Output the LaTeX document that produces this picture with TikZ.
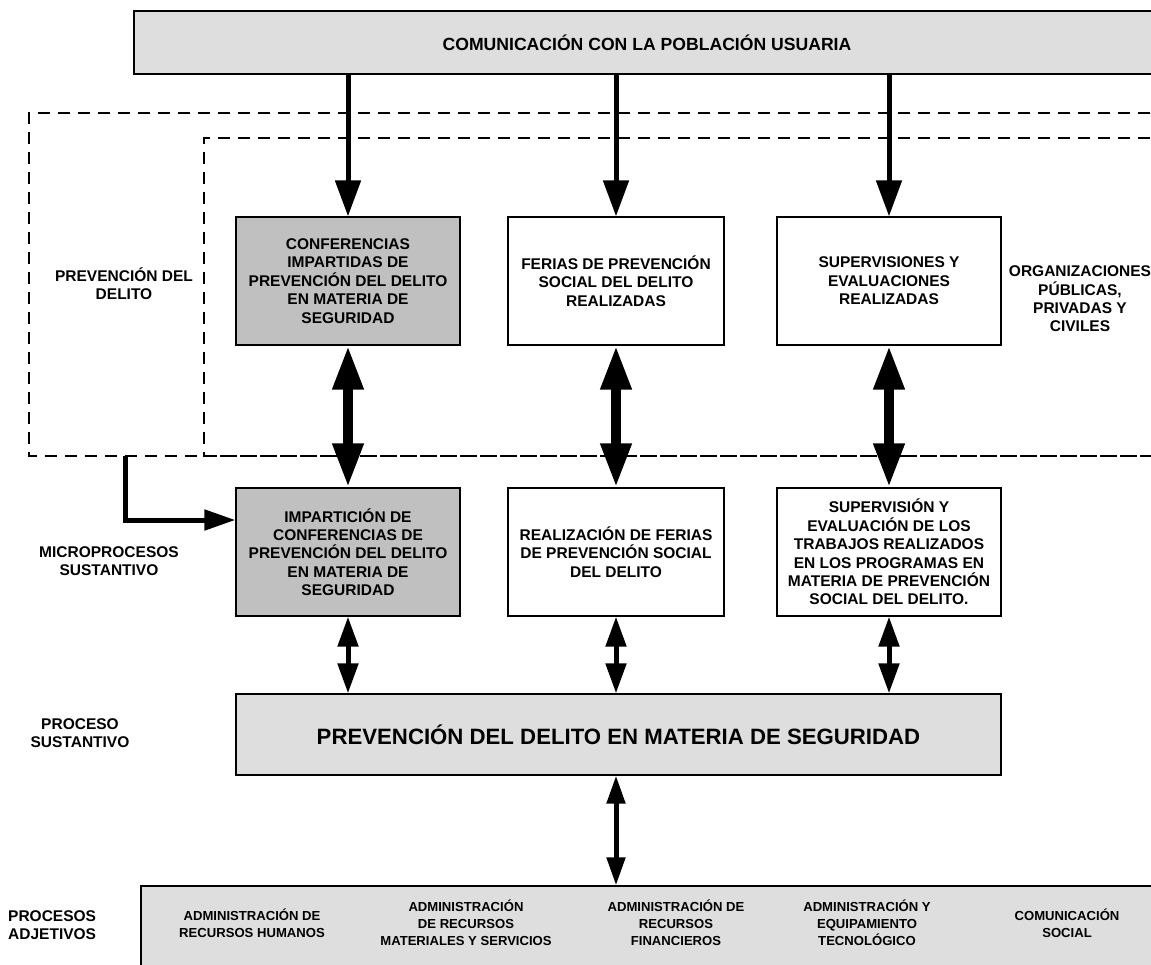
\documentclass[tikz,border=0pt]{standalone}
\usepackage{fontspec}
\setmainfont{Liberation Sans}
\usetikzlibrary{arrows.meta}

\newcommand{\boxfont}{\fontsize{15.5}{18.4}\selectfont\bfseries}
\newcommand{\smallboxfont}{\fontsize{13.1}{17}\selectfont\bfseries}
\newcommand{\titlefont}{\fontsize{17.6}{20}\selectfont\bfseries}

\definecolor{lightfill}{HTML}{DEDEDE}
\definecolor{darkfill}{HTML}{C0C0C0}

\tikzset{
  box/.style={draw=black, line width=1.3pt, align=center, font=\boxfont,
              inner sep=0pt, fill=white},
  graybox/.style={box, fill=darkfill},
  bandbox/.style={box, fill=lightfill},
  label/.style={align=center, font=\boxfont, inner sep=0pt},
  frame/.style={line width=1.2pt, dash pattern=on 12pt off 8pt},
  feed/.style={line width=5pt, -{Triangle[length=36pt,width=25pt]}},
  link/.style={line width=10pt, {Triangle[length=44pt,width=29pt]}-{Triangle[length=44pt,width=29pt]}},
  thinlink/.style={line width=5pt, {Triangle[length=30pt,width=20pt]}-{Triangle[length=30pt,width=20pt]}},
  support/.style={line width=5pt, {Triangle[length=28pt,width=18pt]}-{Triangle[length=28pt,width=18pt]}},
  elbowarrow/.style={line width=5pt, -{Triangle[length=31pt,width=20pt]}},
}

\begin{document}
\begin{tikzpicture}[x=1pt, y=-1pt]
\useasboundingbox (0,0) rectangle (1151,964);
\clip (0,0) rectangle (1151,964);
\fill[white] (0,0) rectangle (1151,964);

% dashed frames (open to the right)
\draw[frame] (1170,113) -- (29,113) -- (29,456) -- (1170,456);
\draw[frame] (1170,138) -- (204,138) -- (204,456) -- (1170,456);

% top band
\node[bandbox, minimum width=1036pt, minimum height=63pt] (top) at (652,42.5) {};
\node[label, font=\titlefont] (toptext) at (647,43)
  {COMUNICACIÓN CON LA POBLACIÓN USUARIA};

% outputs row
\node[graybox, minimum width=224pt, minimum height=128pt] (A) at (348,281)
  {CONFERENCIAS\\IMPARTIDAS DE\\PREVENCIÓN DEL DELITO\\EN MATERIA DE\\SEGURIDAD};
\node[box, minimum width=216pt, minimum height=128pt] (B) at (616,281)
  {FERIAS DE PREVENCIÓN\\SOCIAL DEL DELITO\\REALIZADAS};
\node[box, minimum width=224pt, minimum height=128pt] (C) at (889,281)
  {SUPERVISIONES Y\\EVALUACIONES\\REALIZADAS};

% microprocess row
\node[graybox, minimum width=224pt, minimum height=128pt] (A2) at (348,552)
  {IMPARTICIÓN DE\\CONFERENCIAS DE\\PREVENCIÓN DEL DELITO\\EN MATERIA DE\\SEGURIDAD};
\node[box, minimum width=216pt, minimum height=128pt] (B2) at (616,552)
  {REALIZACIÓN DE FERIAS\\DE PREVENCIÓN SOCIAL\\DEL DELITO};
\node[box, minimum width=224pt, minimum height=128pt] (C2) at (889,552)
  {SUPERVISIÓN Y\\EVALUACIÓN DE LOS\\TRABAJOS REALIZADOS\\EN LOS PROGRAMAS EN\\MATERIA DE PREVENCIÓN\\SOCIAL DEL DELITO.};

% substantive process
\node[bandbox, minimum width=765pt, minimum height=81pt,
      font=\fontsize{22.2}{26}\selectfont\bfseries] (main) at (618.5,734.5)
  {PREVENCIÓN DEL DELITO EN MATERIA DE SEGURIDAD};

% support processes band
\node[bandbox, minimum width=1030pt, minimum height=96pt] (support) at (656,934) {};
\node[label, font=\smallboxfont] (s1) at (252,923) {ADMINISTRACIÓN DE\\RECURSOS HUMANOS};
\node[label, font=\smallboxfont] (s2) at (466,923) {ADMINISTRACIÓN\\DE RECURSOS\\MATERIALES Y SERVICIOS};
\node[label, font=\smallboxfont] (s3) at (676,923) {ADMINISTRACIÓN DE\\RECURSOS\\FINANCIEROS};
\node[label, font=\smallboxfont] (s4) at (867,923) {ADMINISTRACIÓN Y\\EQUIPAMIENTO\\TECNOLÓGICO};
\node[label, font=\smallboxfont] (s5) at (1067,923) {COMUNICACIÓN\\SOCIAL};

% side labels
\node[label] (lprev) at (124,284) {PREVENCIÓN DEL\\DELITO};
\node[label] (lorg) at (1080,299) {ORGANIZACIONES\\PÚBLICAS,\\PRIVADAS Y\\CIVILES};
\node[label] (lmicro) at (109,561) {MICROPROCESOS\\SUSTANTIVO};
\node[label] (lproc) at (80,733) {PROCESO\\SUSTANTIVO};
\node[label, align=left, anchor=west] (ladj) at (8,925) {PROCESOS\\ADJETIVOS};

% connectors
\draw[feed] (top.south -| A.north) -- (A.north);
\draw[feed] (top.south -| B.north) -- (B.north);
\draw[feed] (top.south -| C.north) -- (C.north);

\draw[link] (A.south) -- (A2.north);
\draw[link] (B.south) -- (B2.north);
\draw[link] (C.south) -- (C2.north);

\draw[thinlink] (A2.south) -- (main.north -| A2.south);
\draw[thinlink] (B2.south) -- (main.north -| B2.south);
\draw[thinlink] (C2.south) -- (main.north -| C2.south);

\draw[support] (main.south -| B2.south) -- (support.north -| B2.south);

\coordinate (framefoot) at (125,456);
\draw[elbowarrow] (framefoot) |- ([yshift=32pt]A2.west);
\end{tikzpicture}
\end{document}
